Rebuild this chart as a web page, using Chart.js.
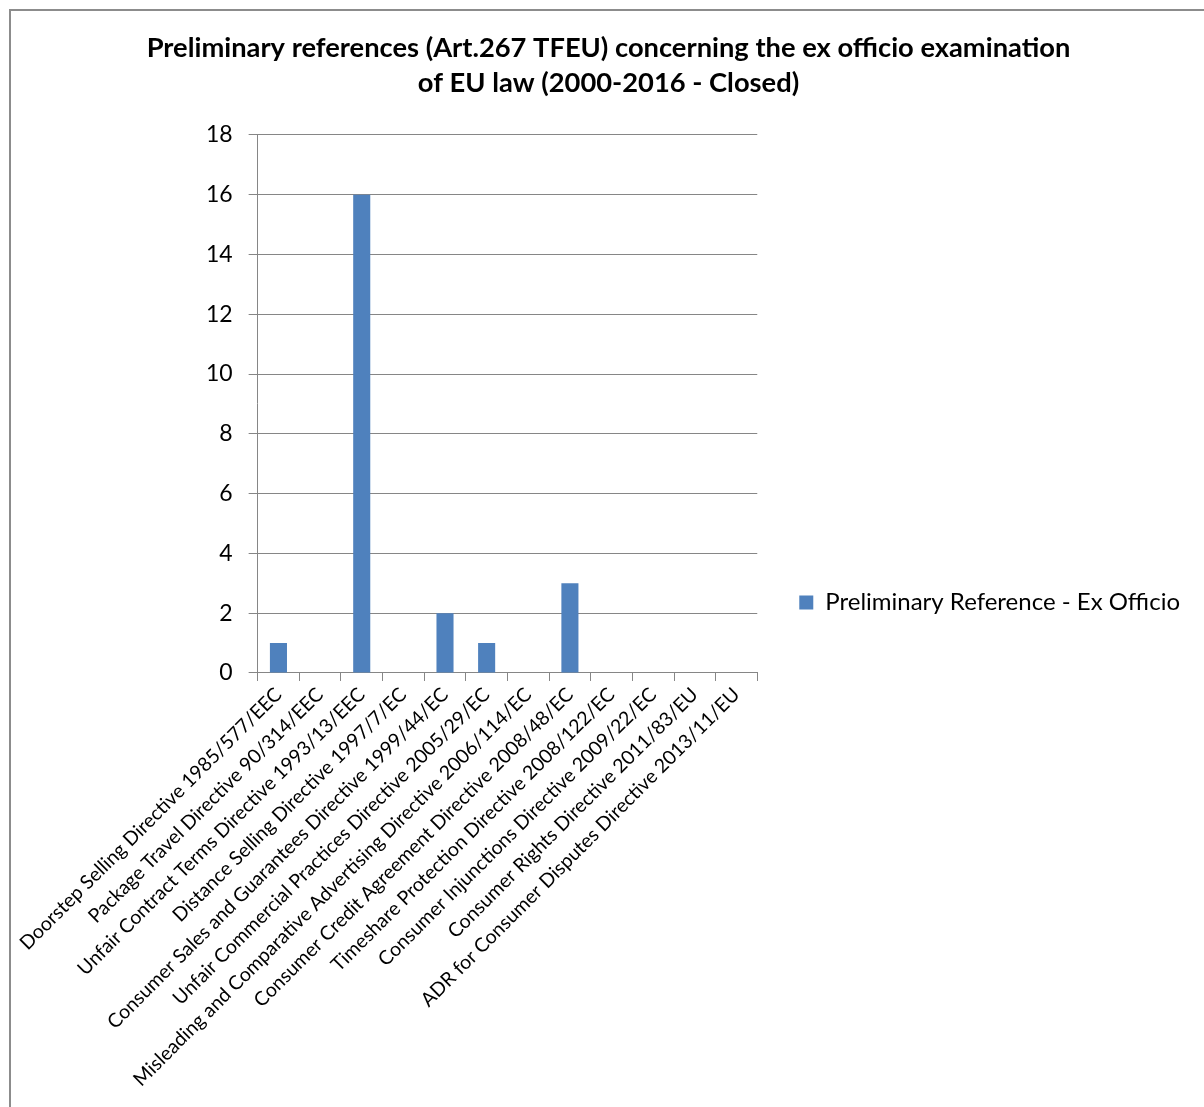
<!DOCTYPE html>
<html lang="en">
<head>
  <meta charset="UTF-8">
  <title>Preliminary references - ex officio examination</title>
  <script src="https://cdn.jsdelivr.net/npm/chart.js"></script>
  <style>
    html, body { margin: 0; padding: 0; background: #fff; overflow: hidden; }
    #frame {
      position: absolute; left: 9px; top: 9px;
      width: 1200px; height: 1100px;
      border-left: 2px solid #8c8c8c; border-top: 2px solid #8c8c8c;
    }
    #refChart { display: block; }
  </style>
</head>
<body>
  <div id="frame">
    <canvas id="refChart" width="1198" height="1082"></canvas>
  </div>

  <script>
    // Directives (categories)
    const directives = [
      'Doorstep Selling Directive 1985/577/EEC',
      'Package Travel Directive 90/314/EEC',
      'Unfair Contract Terms Directive 1993/13/EEC',
      'Distance Selling Directive 1997/7/EC',
      'Consumer Sales and Guarantees Directive 1999/44/EC',
      'Unfair Commercial Practices Directive 2005/29/EC',
      'Misleading and Comparative Advertising Directive 2006/114/EC',
      'Consumer Credit Agreement Directive 2008/48/EC',
      'Timeshare Protection Directive 2008/122/EC',
      'Consumer Injunctions Directive 2009/22/EC',
      'Consumer Rights Directive 2011/83/EU',
      'ADR for Consumer Disputes Directive 2013/11/EU'
    ];

    // Number of ex officio preliminary references per directive
    const exOfficioCounts = [1, 0, 16, 0, 2, 1, 0, 3, 0, 0, 0, 0];

    const seriesName = 'Preliminary Reference - Ex Officio';
    const chartTitle = [
      'Preliminary references (Art.267 TFEU) concerning the ex officio examination',
      'of EU law (2000-2016 - Closed)'
    ];

    const fontFamily = 'Lato, "Open Sans", sans-serif';
    const gridGrey = '#868686';

    new Chart(document.getElementById('refChart'), {
      type: 'bar',
      data: {
        labels: directives,
        datasets: [{
          label: seriesName,
          data: exOfficioCounts,
          backgroundColor: '#4f81bd',
          borderWidth: 0,
          categoryPercentage: 1.0,
          barPercentage: 0.41
        }]
      },
      options: {
        responsive: false,
        animation: false,
        layout: { padding: { left: 16, right: 19, bottom: 0 } },
        plugins: {
          title: {
            display: true,
            text: chartTitle,
            color: '#000',
            font: { family: fontFamily, size: 27.3, weight: 'bold', lineHeight: 1.28 },
            padding: { top: 20, bottom: 34 }
          },
          legend: {
            position: 'right',
            align: 'center',
            maxWidth: 480,
            // empty legend title just pushes the entry down a little
            title: { display: true, text: '', padding: { top: 50, bottom: 50 }, font: { size: 1 } },
            labels: {
              color: '#000',
              font: { family: fontFamily, size: 24 },
              boxWidth: 14,
              boxHeight: 14,
              padding: 42
            }
          },
          tooltip: { enabled: false }
        },
        scales: {
          x: {
            offset: true,
            grid: {
              offset: true,
              drawOnChartArea: false,
              drawTicks: true,
              tickLength: 8,
              color: gridGrey
            },
            border: { display: true, color: gridGrey, width: 1 },
            ticks: {
              autoSkip: false,
              maxRotation: 45,
              minRotation: 45,
              color: '#000',
              font: { family: fontFamily, size: 19.5 },
              padding: 2
            }
          },
          y: {
            min: 0,
            max: 18,
            // reserve room on the left so the long first category label fits
            afterFit: scale => { scale.width = 230; },
            grid: {
              color: gridGrey,
              drawTicks: true,
              tickLength: 9
            },
            border: { display: true, color: gridGrey, width: 1 },
            ticks: {
              stepSize: 2,
              color: '#000',
              font: { family: fontFamily, size: 23 },
              padding: 16
            }
          }
        }
      }
    });
  </script>
</body>
</html>
